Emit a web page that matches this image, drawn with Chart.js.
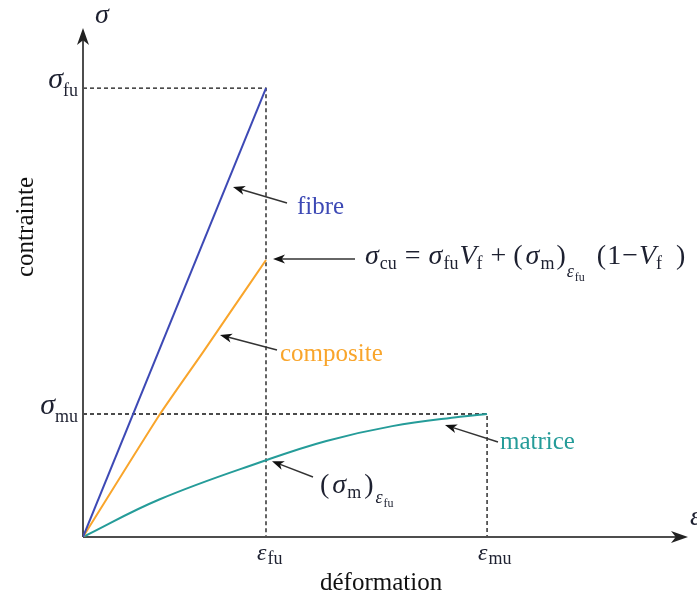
<!DOCTYPE html>
<html><head><meta charset="utf-8">
<script src="https://cdn.jsdelivr.net/npm/chart.js@4"></script>
<style>html,body{margin:0;padding:0;background:#fff;} canvas{display:block}</style>
</head><body>
<canvas id="c" width="697" height="597"></canvas>
<script>
// ---- data (strain in units of eps_fu, stress in % of sigma_fu) ----
const strainFibre = [0, 1.0];
const stressFibre = [0, 100];
const strainComposite = [0, 0.421, 0.656, 0.820, 1.0];
const stressComposite = [0, 27.4, 41.2, 51.0, 61.7];
const strainMatrice = [0, 0.42, 1.0, 1.33, 1.69, 2.06, 2.208];
const stressMatrice = [0, 8.4, 17.1, 21.4, 24.7, 26.8, 27.4];
const strainTicks = [1.0, 2.208];
const strainTickSubs = ['fu', 'mu'];
const stressTicks = [100, 27.4];
const stressTickSubs = ['fu', 'mu'];
const sigmaCU = 61.7;
const sigmaMatAtEpsFU = 17.1;
const seriesNames = ['fibre', 'composite', 'matrice'];
const seriesColors = ['#3d49b5', '#f9a52b', '#259c99'];
const axisLabels = ['déformation', 'contrainte'];

const SERIF = '"Liberation Serif", "Times New Roman", serif';
const MATH = '#1d2030';
function font(s, it) { return (it ? 'italic ' : '') + s + 'px ' + SERIF; }
function runWidth(ctx, pieces) {
  let w = 0;
  for (const p of pieces) { const [t, s, it, dy = 0, gap = 0] = p; ctx.font = font(s, it); w += gap + ctx.measureText(t).width; }
  return w;
}
function drawRun(ctx, x, y, pieces, color) {
  ctx.fillStyle = color; ctx.textBaseline = 'alphabetic'; ctx.textAlign = 'left';
  for (const p of pieces) {
    const [t, s, it, dy = 0, gap = 0] = p;
    x += gap; ctx.font = font(s, it); ctx.fillText(t, x, y + dy); x += ctx.measureText(t).width;
  }
  return x;
}
function head(ctx, x, y, ang, len, half, color) {
  ctx.save(); ctx.translate(x, y); ctx.rotate(ang);
  ctx.beginPath(); ctx.moveTo(0, 0); ctx.lineTo(-len, -half); ctx.lineTo(-len * 0.72, 0); ctx.lineTo(-len, half); ctx.closePath();
  ctx.fillStyle = color; ctx.fill(); ctx.restore();
}
function arrow(ctx, x1, y1, x2, y2) {
  const ang = Math.atan2(y2 - y1, x2 - x1);
  ctx.save(); ctx.strokeStyle = '#333'; ctx.lineWidth = 1.4;
  ctx.beginPath(); ctx.moveTo(x1, y1); ctx.lineTo(x2 - Math.cos(ang) * 6, y2 - Math.sin(ang) * 6); ctx.stroke();
  head(ctx, x2, y2, ang, 12, 4.5, '#111'); ctx.restore();
}

const decor = {
  id: 'decor',
  beforeDatasetsDraw(chart) {
    const { ctx, chartArea: a, scales: { x, y } } = chart;
    const x0 = x.getPixelForValue(0), y0 = y.getPixelForValue(0);
    ctx.save();
    ctx.strokeStyle = '#111'; ctx.lineWidth = 1.3; ctx.setLineDash([4, 3]);
    for (let i = 0; i < strainTicks.length; i++) {
      const px = x.getPixelForValue(strainTicks[i]);
      const py = y.getPixelForValue(stressTicks[i]);
      ctx.beginPath(); ctx.moveTo(x0, py); ctx.lineTo(px, py); ctx.lineTo(px, y0); ctx.stroke();
    }
    ctx.setLineDash([]);
    ctx.strokeStyle = '#4d4d4d'; ctx.lineWidth = 2;
    ctx.beginPath(); ctx.moveTo(x0, y0); ctx.lineTo(x0, a.top + 8); ctx.stroke();
    ctx.beginPath(); ctx.moveTo(x0, y0); ctx.lineTo(a.right - 8, y0); ctx.stroke();
    head(ctx, x0, a.top, -Math.PI / 2, 17, 6, '#222');
    head(ctx, a.right, y0, 0, 17, 6, '#222');
    ctx.restore();
  },
  afterDatasetsDraw(chart) {
    const { ctx, chartArea: a, scales: { x, y } } = chart;
    const x0 = x.getPixelForValue(0), y0 = y.getPixelForValue(0);
    ctx.save();
    drawRun(ctx, x0 + 12, a.top - 5, [['σ', 28, true]], MATH);
    drawRun(ctx, a.right + 2, y0 - 12, [['ε', 28, true]], MATH);
    for (let i = 0; i < stressTicks.length; i++) {
      const py = y.getPixelForValue(stressTicks[i]);
      const pcs = [['σ', 30, true], [stressTickSubs[i], 18, false, 8, 0]];
      const w = runWidth(ctx, pcs);
      drawRun(ctx, x0 - 5 - w, py, pcs, MATH);
    }
    for (let i = 0; i < strainTicks.length; i++) {
      const px = x.getPixelForValue(strainTicks[i]);
      drawRun(ctx, px - 9, y0 + 23, [['ε', 24, true], [strainTickSubs[i], 18, false, 4, 1]], MATH);
    }
    ctx.fillStyle = '#111'; ctx.font = font(25, false); ctx.textAlign = 'left'; ctx.textBaseline = 'alphabetic';
    ctx.fillText(axisLabels[0], 320, 590);
    ctx.save(); ctx.translate(33, 227); ctx.rotate(-Math.PI / 2); ctx.textAlign = 'center';
    ctx.fillText(axisLabels[1], 0, 0); ctx.restore();
    ctx.font = font(25, false); ctx.textAlign = 'left';
    ctx.fillStyle = seriesColors[0]; ctx.fillText(seriesNames[0], 297, 214);
    ctx.fillStyle = seriesColors[1]; ctx.fillText(seriesNames[1], 280, 361);
    ctx.fillStyle = seriesColors[2]; ctx.fillText(seriesNames[2], 500, 449);
    const pxFU = x.getPixelForValue(1.0);
    arrow(ctx, 287, 203, 233, 187);
    arrow(ctx, 277, 350, 220, 335);
    arrow(ctx, 355, y.getPixelForValue(sigmaCU) - 1, pxFU + 7, y.getPixelForValue(sigmaCU) - 1);
    arrow(ctx, 498, 442, 445, 425);
    arrow(ctx, 313, 477, pxFU + 6, y.getPixelForValue(sigmaMatAtEpsFU) + 1);
    drawRun(ctx, 365, 264, [
      ['σ', 28, true], ['cu', 18, false, 5, 1], ['=', 28, false, 0, 8], ['σ', 28, true, 0, 8], ['fu', 18, false, 5, 1],
      ['V', 28, true, 0, 1], ['f', 18, false, 5, 0], ['+', 28, false, 0, 8], ['(', 28, false, 0, 7], ['σ', 28, true, 0, 3],
      ['m', 18, false, 5, 1], [')', 28, false, 0, 2], ['ε', 18, true, 13, 1], ['fu', 12, false, 17, 1],
      ['(', 28, false, 0, 12], ['1', 28, false, 0, 1], ['−', 28, false, 0, 1], ['V', 28, true, 0, 1], ['f', 18, false, 5, 0],
      [')', 28, false, 0, 14]
    ], MATH);
    drawRun(ctx, 320, 493, [
      ['(', 28, false], ['σ', 28, true, 0, 3], ['m', 18, false, 5, 1], [')', 28, false, 0, 3], ['ε', 18, true, 10, 2], ['fu', 12, false, 14, 1]
    ], MATH);
    ctx.restore();
  }
};

function pts(xs, ys) { return xs.map((v, i) => ({ x: v, y: ys[i] })); }

new Chart(document.getElementById('c'), {
  type: 'scatter',
  data: {
    datasets: [
      { label: seriesNames[0], data: pts(strainFibre, stressFibre), showLine: true, borderColor: seriesColors[0], borderWidth: 2, pointRadius: 0 },
      { label: seriesNames[1], data: pts(strainComposite, stressComposite), showLine: true, borderColor: seriesColors[1], borderWidth: 2, pointRadius: 0, tension: 0.2 },
      { label: seriesNames[2], data: pts(strainMatrice, stressMatrice), showLine: true, borderColor: seriesColors[2], borderWidth: 2, pointRadius: 0, tension: 0.4 }
    ]
  },
  options: {
    responsive: false, animation: false, devicePixelRatio: 1,
    layout: { padding: { left: 83, right: 9, top: 28, bottom: 60 } },
    plugins: { legend: { display: false }, tooltip: { enabled: false } },
    scales: {
      x: { type: 'linear', display: false, min: 0, max: 3.306 },
      y: { type: 'linear', display: false, min: 0, max: 113.4 }
    }
  },
  plugins: [decor]
});
</script>
</body></html>
